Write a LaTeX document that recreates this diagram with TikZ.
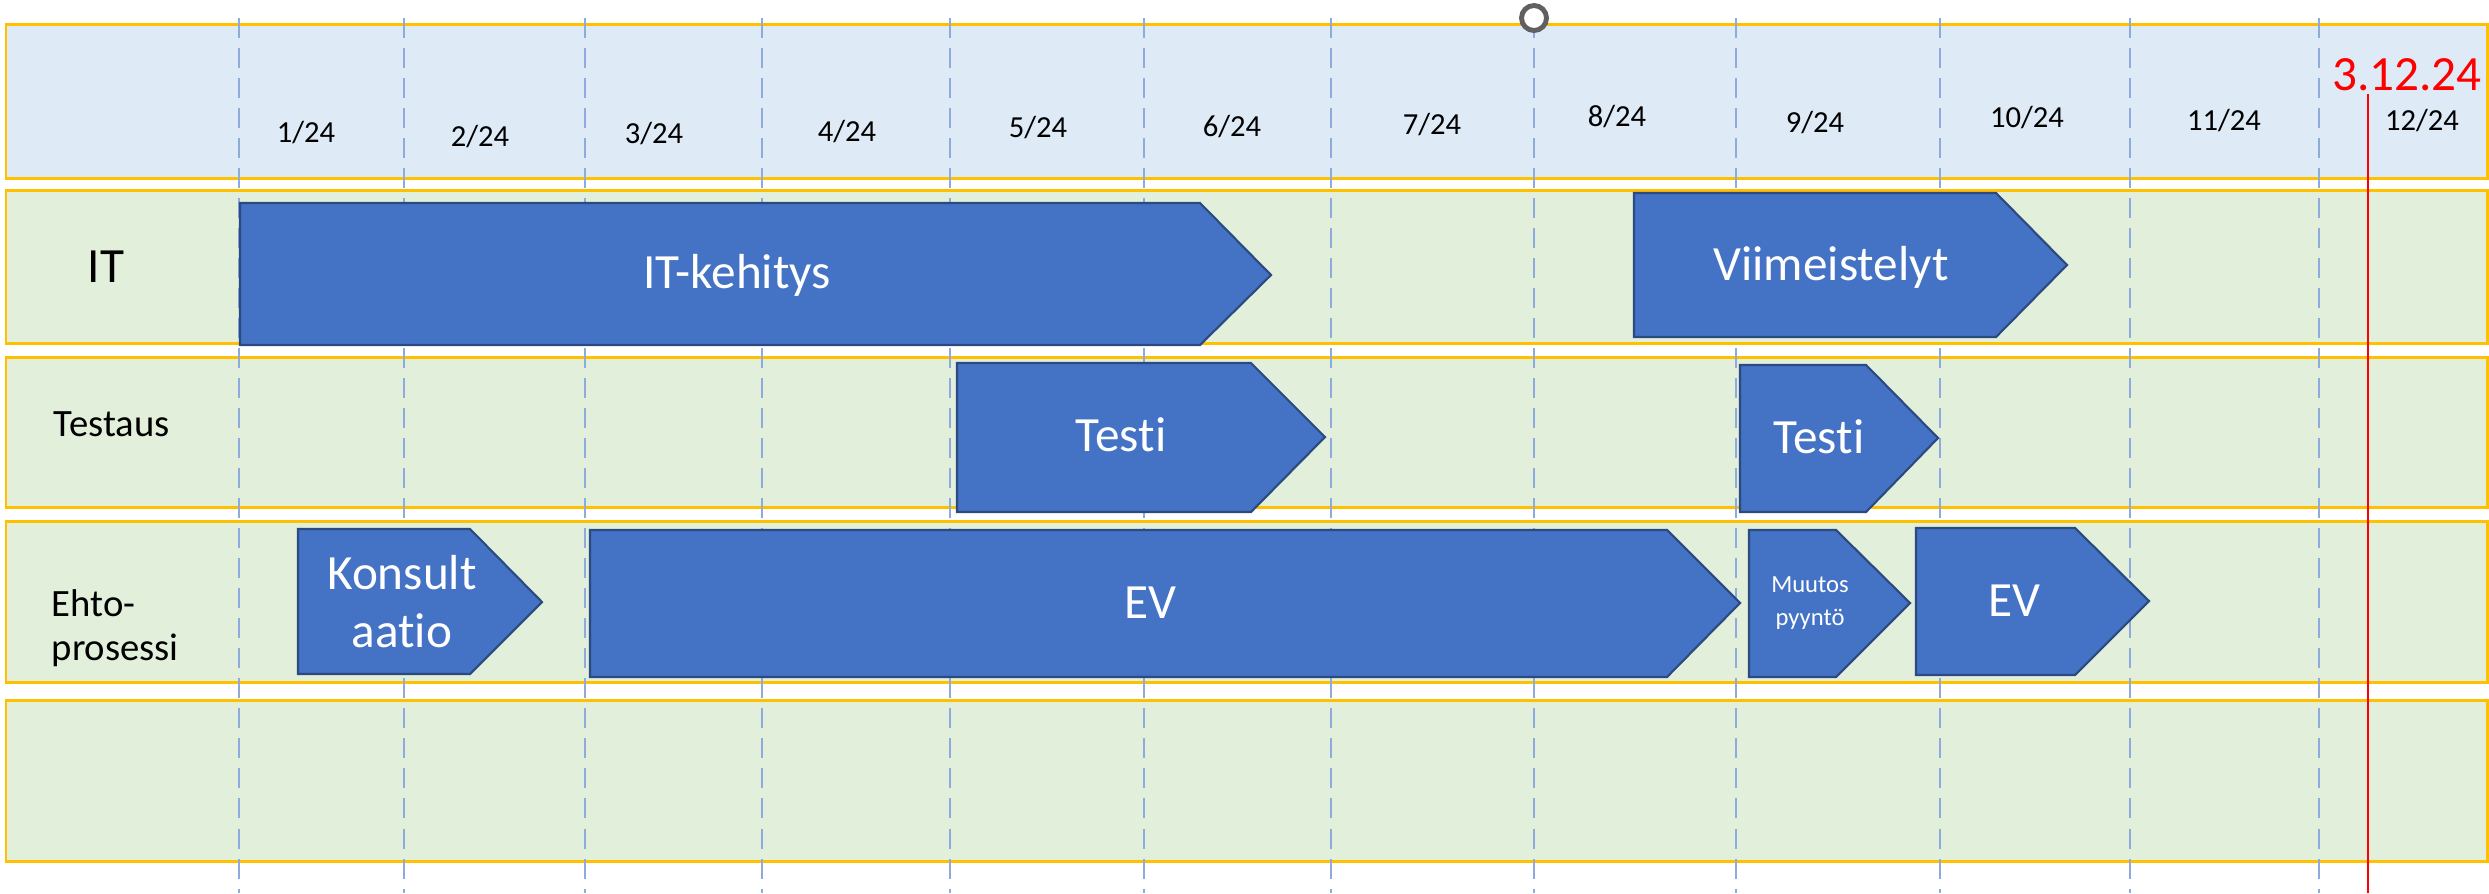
\documentclass[tikz,border=0pt]{standalone}
\usepackage{fontspec}
\setmainfont{Carlito}[RawFeature={-liga;-clig}]
\definecolor{hdr}{HTML}{DEEBF7}
\definecolor{rowg}{HTML}{E2EFDA}
\definecolor{gold}{HTML}{FFC000}
\definecolor{gridb}{HTML}{8FAADC}
\definecolor{barf}{HTML}{4472C4}
\definecolor{bard}{HTML}{2B4A80}
\definecolor{ringg}{HTML}{606060}
\begin{document}
\begin{tikzpicture}[x=0.01cm,y=-0.01cm,
  rowbox/.style={draw=gold,line width=0.85pt},
  gridline/.style={draw=gridb,line width=0.6pt,dash pattern=on 0.2cm off 0.1cm},
  bar/.style={fill=barf,draw=bard,line width=0.6pt,line join=miter},
  bigtxt/.style={text=white,font=\fontsize{14pt}{16.5pt}\selectfont,inner sep=0pt,align=center},
  smalltxt/.style={text=white,font=\fontsize{7pt}{9.4pt}\selectfont,inner sep=0pt,align=center},
  month/.style={font=\fontsize{8.7pt}{10pt}\selectfont,inner sep=0pt},
  rowlabel/.style={font=\fontsize{11pt}{12.5pt}\selectfont,inner sep=0pt,align=left,anchor=west}]
\useasboundingbox (0,0) rectangle (2489,893);
\fill[white] (0,0) rectangle (2489,893);
% rows
\draw[rowbox,fill=hdr] (6,24) rectangle (2487,178);
\draw[rowbox,fill=rowg] (6,190) rectangle (2487,343);
\draw[rowbox,fill=rowg] (6,357) rectangle (2487,507);
\draw[rowbox,fill=rowg] (6,521) rectangle (2487,682);
\draw[rowbox,fill=rowg] (6,700) rectangle (2487,861);
% grid lines
\foreach \gx in {239,404,585,762,950,1144,1331,1534,1736,1940,2130,2319}
  \draw[gridline] (\gx,18) -- (\gx,893);
% month labels
\node[month] (m1) at (306,133) {1/24};
\node[month] (m2) at (480,137) {2/24};
\node[month] (m3) at (654,134) {3/24};
\node[month] (m4) at (847,132) {4/24};
\node[month] (m5) at (1038,128) {5/24};
\node[month] (m6) at (1232,127) {6/24};
\node[month] (m7) at (1432,125) {7/24};
\node[month] (m8) at (1617,117) {8/24};
\node[month] (m9) at (1815,123) {9/24};
\node[month] (m10) at (2027,118) {10/24};
\node[month] (m11) at (2224,121) {11/24};
\node[month] (m12) at (2422,121) {12/24};
% row labels
\node[font=\fontsize{14pt}{16pt}\selectfont,inner sep=0pt] (lit) at (106,267) {IT};
\node[rowlabel] (ltest) at (53,424) {Testaus};
\node[rowlabel] (lehto) at (51,628) {Ehto-\\prosessi};
% bars
\draw[bar] (240,203) -- (1200,203) -- (1271,275) -- (1200,345) -- (240,345) -- cycle;
\node[bigtxt] (itk) at (737,275) {IT-kehitys};
\draw[bar] (1634,193) -- (1996,193) -- (2067,265) -- (1996,337) -- (1634,337) -- cycle;
\node[bigtxt] (viim) at (1831,267) {Viimeistelyt};
\draw[bar] (957,363) -- (1251,363) -- (1325,437) -- (1251,512) -- (957,512) -- cycle;
\node[bigtxt] (testi1) at (1121,435) {Testi};
\draw[bar] (1740,365) -- (1866,365) -- (1938,438) -- (1866,512) -- (1740,512) -- cycle;
\node[bigtxt] (testi2) at (1819,437) {Testi};
\draw[bar] (298,529) -- (470,529) -- (542,602) -- (470,674) -- (298,674) -- cycle;
\node[bigtxt] (kons) at (402,602) {Konsult\\aatio};
\draw[bar] (590,530) -- (1667,530) -- (1740,603) -- (1667,677) -- (590,677) -- cycle;
\node[bigtxt] (ev1) at (1150,603) {EV};
\draw[bar] (1749,530) -- (1836,530) -- (1910,603) -- (1836,677) -- (1749,677) -- cycle;
\node[smalltxt] (muut) at (1810,603) {Muutos\\pyyntö};
\draw[bar] (1916,528) -- (2075,528) -- (2149,601) -- (2075,675) -- (1916,675) -- cycle;
\node[bigtxt] (ev2) at (2014,601) {EV};
% today marker
\node[text=red,font=\fontsize{14pt}{16pt}\selectfont,inner sep=0pt] (today) at (2407,75) {3.12.24};
\coordinate (tend) at (2368,893);
\draw[red,line width=0.6pt] (2368,94) -- (tend);
% handle ring
\draw[ringg,line width=1.4pt,fill=white] (1534,18) circle (12.5);
\end{tikzpicture}
\end{document}
